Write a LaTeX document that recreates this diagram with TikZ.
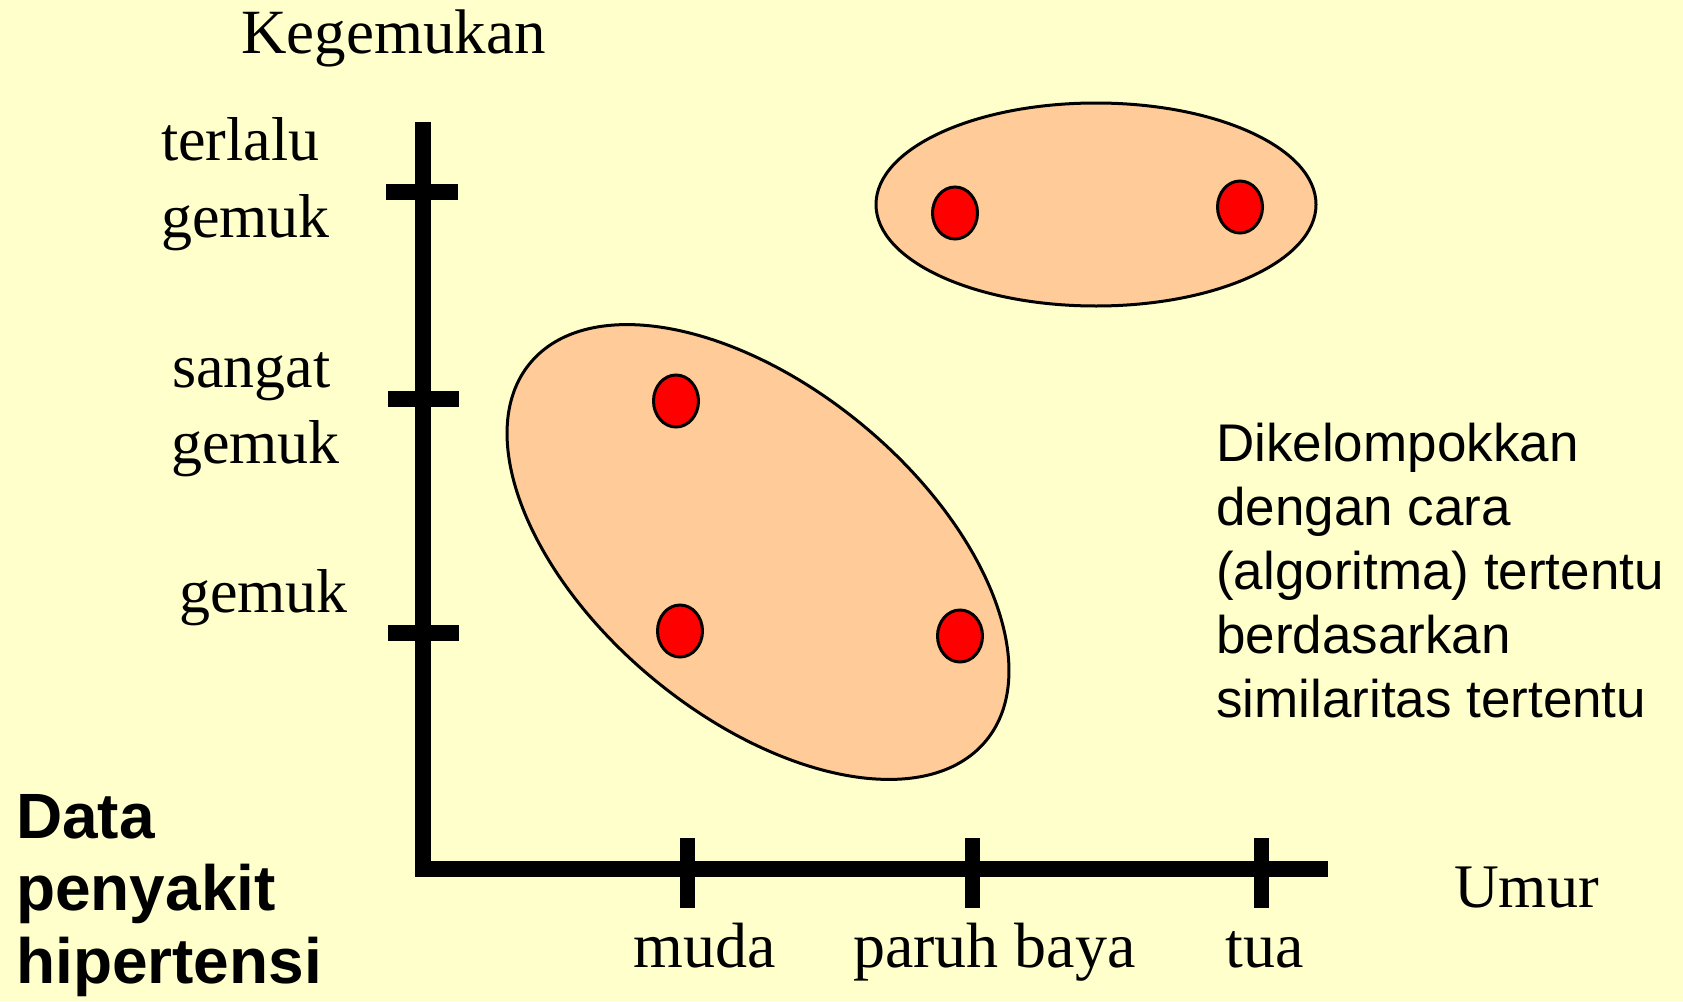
\documentclass[tikz,border=0pt]{standalone}
\usepackage{fontspec}
\setmainfont{Liberation Serif}
\newfontfamily\lserif{Liberation Serif}
\newfontfamily\lsans{Liberation Sans}
\usetikzlibrary{shapes.geometric}
\definecolor{bgyellow}{HTML}{FFFFCC}
\definecolor{peach}{HTML}{FFCC99}
\definecolor{dotred}{HTML}{FF0000}
\tikzset{
  serlab/.style={anchor=base west, inner sep=0pt, font=\lserif\fontsize{62}{74}\selectfont},
  boldlab/.style={anchor=base west, inner sep=0pt, font=\lsans\bfseries\fontsize{64}{76}\selectfont},
  notelab/.style={anchor=base west, inner sep=0pt, font=\lsans\fontsize{53}{64}\selectfont},
  clusterbox/.style={ellipse, draw=black, line width=3pt, fill=peach, inner sep=0pt},
  datadot/.style={ellipse, draw=black, line width=3pt, fill=dotred, inner sep=0pt, minimum width=45pt, minimum height=52pt},
  axisline/.style={line width=16pt, line cap=butt},
  tickline/.style={line width=15pt, line cap=butt}
}
\begin{document}
\begin{tikzpicture}[x=1pt,y=-1pt]
\fill[bgyellow] (0,0) rectangle (1683,1001);
\useasboundingbox (0,0) rectangle (1683,1001);

% clusters
\node[clusterbox, minimum width=592pt, minimum height=329pt, rotate=-39.65] (c1) at (758,552) {};
\node[clusterbox, minimum width=440pt, minimum height=203pt] (c2) at (1096,204.5) {};

% data points
\node[datadot] (p1) at (676,401) {};
\node[datadot] (p2) at (680,631) {};
\node[datadot] (p3) at (960,636) {};
\node[datadot] (p4) at (955,213) {};
\node[datadot] (p5) at (1240,207) {};

% axes
\coordinate (ytop) at (423,122);
\coordinate (ybot) at (423,877);
\coordinate (xleft) at (415,869);
\coordinate (xright) at (1328,869);
\draw[axisline] (ytop) -- (ybot);
\draw[axisline] (xleft) -- (xright);

% y ticks
\coordinate (ya1) at (386,192); \coordinate (yb1) at (458,192);
\coordinate (ya2) at (388,399); \coordinate (yb2) at (459,399);
\coordinate (ya3) at (388,633); \coordinate (yb3) at (459,633);
\draw[axisline] (ya1) -- (yb1);
\draw[axisline] (ya2) -- (yb2);
\draw[axisline] (ya3) -- (yb3);

% x ticks
\coordinate (xa1) at (687,838); \coordinate (xb1) at (687,908);
\coordinate (xa2) at (972,838); \coordinate (xb2) at (972,908);
\coordinate (xa3) at (1261,838); \coordinate (xb3) at (1261,908);
\draw[tickline] (xa1) -- (xb1);
\draw[tickline] (xa2) -- (xb2);
\draw[tickline] (xa3) -- (xb3);

% serif labels
\node[serlab, font=\lserif\fontsize{63}{75}\selectfont] (kg) at (241,53) {Kegemukan};
\node[serlab] (l1a) at (161,160) {terlalu};
\node[serlab] (l1b) at (161,237) {gemuk};
\node[serlab] (l2a) at (172,387) {sangat};
\node[serlab] (l2b) at (171,463) {gemuk};
\node[serlab] (l3) at (179,612) {gemuk};
\node[serlab, font=\lserif\fontsize{64}{76}\selectfont] (m1) at (633,967) {muda};
\node[serlab, font=\lserif\fontsize{64}{76}\selectfont] (m2) at (853,967) {paruh baya};
\node[serlab, font=\lserif\fontsize{64}{76}\selectfont] (m3) at (1225,967) {tua};
\node[serlab] (um) at (1454,907) {Umur};

% bold title
\node[boldlab] (d1) at (16,838) {Data};
\node[boldlab] (d2) at (16,910) {penyakit};
\node[boldlab] (d3) at (16,983) {hipertensi};

% note
\node[notelab] (n1) at (1216,461) {Dikelompokkan};
\node[notelab] (n2) at (1216,525) {dengan cara};
\node[notelab] (n3) at (1216,589) {(algoritma) tertentu};
\node[notelab] (n4) at (1216,653) {berdasarkan};
\node[notelab] (n5) at (1216,717) {similaritas tertentu};
\end{tikzpicture}
\end{document}
